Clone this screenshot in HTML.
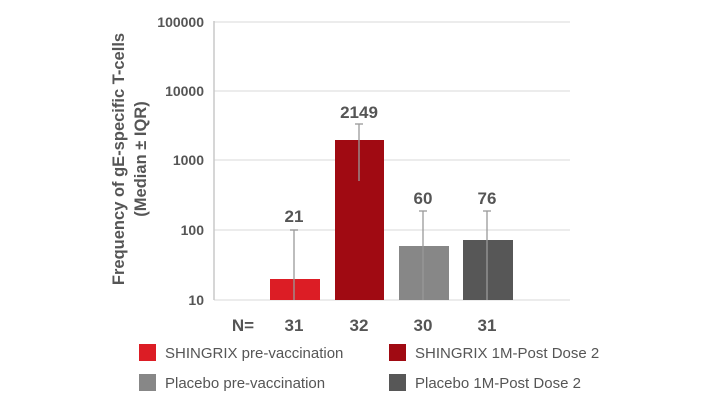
<!DOCTYPE html><html><head><style>body{margin:0;background:#fff}</style></head><body>
<svg width="716" height="402" xmlns="http://www.w3.org/2000/svg" font-family="Liberation Sans, sans-serif">
<g stroke="#e6e6e6" stroke-width="1.5">
<line x1="214" y1="22" x2="570" y2="22"/><line x1="214" y1="91" x2="570" y2="91"/><line x1="214" y1="160" x2="570" y2="160"/><line x1="214" y1="230" x2="570" y2="230"/><line x1="214" y1="300" x2="570" y2="300"/></g>
<line x1="214" y1="21" x2="214" y2="300" stroke="#c8c8c8" stroke-width="1.5"/>
<g font-size="14" font-weight="bold" fill="#555" text-anchor="end">
<text x="204" y="27">100000</text><text x="204" y="96">10000</text><text x="204" y="165">1000</text><text x="204" y="235">100</text><text x="204" y="305">10</text></g>
<text transform="translate(124,159) rotate(-90)" text-anchor="middle" font-size="16.5" font-weight="bold" fill="#555">Frequency of gE-specific T-cells</text>
<text transform="translate(146,159) rotate(-90)" text-anchor="middle" font-size="16.5" font-weight="bold" fill="#555">(Median ± IQR)</text>
<rect x="270" y="279" width="50" height="21" fill="#dc1d25"/>
<rect x="335" y="140" width="49" height="160" fill="#a00a12"/>
<rect x="399" y="246" width="50" height="54" fill="#878787"/>
<rect x="463" y="240" width="50" height="60" fill="#575757"/>
<g stroke="#999" stroke-width="1.3">
<line x1="294" y1="230" x2="294" y2="300"/><line x1="290" y1="230" x2="298" y2="230"/>
<line x1="359" y1="124" x2="359" y2="181"/><line x1="355" y1="124" x2="363" y2="124"/>
<line x1="423" y1="211" x2="423" y2="300"/><line x1="419" y1="211" x2="427" y2="211"/>
<line x1="487" y1="211" x2="487" y2="300"/><line x1="483" y1="211" x2="491" y2="211"/></g>
<g font-size="17" font-weight="bold" fill="#555" text-anchor="middle">
<text x="294" y="222">21</text><text x="359" y="118">2149</text><text x="423" y="204">60</text><text x="487" y="204">76</text>
<text x="243" y="331">N=</text><text x="294" y="331">31</text><text x="359" y="331">32</text><text x="423" y="331">30</text><text x="487" y="331">31</text></g>
<rect x="139" y="344" width="17" height="17" fill="#dc1d25"/>
<rect x="389" y="344" width="17" height="17" fill="#a00a12"/>
<rect x="139" y="374" width="17" height="17" fill="#878787"/>
<rect x="389" y="374" width="17" height="17" fill="#575757"/>
<g font-size="15" fill="#555">
<text x="165" y="358">SHINGRIX pre-vaccination</text><text x="415" y="358">SHINGRIX 1M-Post Dose 2</text>
<text x="165" y="388">Placebo pre-vaccination</text><text x="415" y="388">Placebo 1M-Post Dose 2</text></g>
</svg></body></html>
